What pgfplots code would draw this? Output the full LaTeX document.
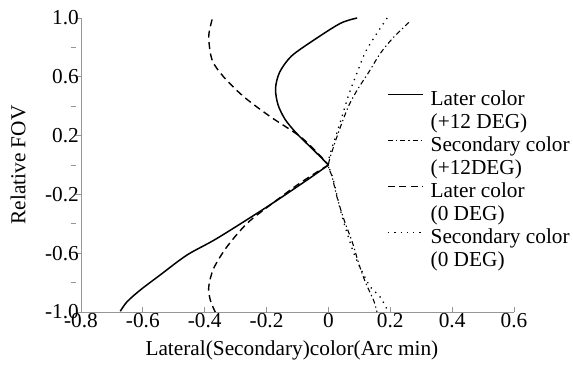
\documentclass[border=0pt]{standalone}
\usepackage{pgfplots}
\pgfplotsset{compat=1.18}
\usepackage{fontspec}
\setmainfont{Liberation Serif}
\definecolor{axgray}{RGB}{150,150,150}
\newcommand{\chartfont}{\fontsize{21.3bp}{24bp}\selectfont}
\begin{document}
\chartfont
\begin{tikzpicture}
\begin{axis}[
  at={(0,0)}, anchor=south west,
  scale only axis, width=433bp, height=294bp,
  xmin=-0.8, xmax=0.6, ymin=-1, ymax=1,
  axis x line=bottom, axis y line=left,
  axis line style={-, axgray, line width=0.8pt},
  every tick/.style={axgray, line width=0.8pt},
  tick align=inside,
  major tick length=5bp, minor tick length=5bp,
  y tick style={xshift=-5bp},
  minor y tick style={xshift=-5bp},
  xtick={-0.8,-0.6,-0.4,-0.2,0,0.2,0.4,0.6},
  xticklabels={-0.8,-0.6,-0.4,-0.2,0,0.2,0.4,0.6},
  ytick={-1,-0.6,-0.2,0.2,0.6,1},
  yticklabels={-1.0,-0.6,-0.2,0.2,0.6,1.0},
  minor ytick={-0.8,-0.4,0,0.4,0.8},
  tick label style={font=\chartfont, black},
  xticklabel style={inner sep=1.5bp},
  yticklabel style={inner sep=2bp},
  xlabel={Lateral(Secondary)color(Arc min)},
  ylabel={Relative FOV},
  label style={font=\chartfont},
  xlabel style={at={(axis description cs:0.487,-0.13)}, anchor=center},
  ylabel style={at={(axis description cs:-0.145,0.5)}, anchor=center},
  legend style={at={(0.7067,0.7585)}, anchor=north west, draw=none, fill=none,
    inner sep=0pt, row sep=0pt,
    nodes={inner xsep=7bp, inner ysep=1.5bp, text height=15bp, text depth=5bp,
      font=\chartfont}},
  legend cell align=left,
  legend image code/.code={\draw[#1] (0bp,0.3em) -- (35bp,0.3em);},
  clip=false,
]
\addlegendimage{black, line width=1.5pt}
\addlegendentry{Later color}
\addlegendimage{empty legend}
\addlegendentry{(+12 DEG)}
\addlegendimage{black, line width=1.1pt, dash pattern=on 5bp off 3bp on 1.3bp off 3bp}
\addlegendentry{Secondary color}
\addlegendimage{empty legend}
\addlegendentry{(+12DEG)}
\addlegendimage{black, line width=1.4pt, dash pattern=on 7bp off 4.5bp}
\addlegendentry{Later color}
\addlegendimage{empty legend}
\addlegendentry{(0 DEG)}
\addlegendimage{black, line width=1.3pt, dash pattern=on 1.3bp off 5bp}
\addlegendentry{Secondary color}
\addlegendimage{empty legend}
\addlegendentry{(0 DEG)}

% Later color (+12 DEG)
\addplot[black, line width=1.5pt, smooth, forget plot] coordinates {
(0.093,1.0) (0.039,0.964) (-0.047,0.85) (-0.12,0.74) (-0.158,0.63) (-0.171,0.52)
(-0.163,0.41) (-0.14,0.31) (-0.105,0.22) (-0.062,0.13) (-0.028,0.06) (0,0)};
\addplot[black, line width=1.5pt, smooth, forget plot] coordinates {
(0,0) (-0.069,-0.102) (-0.198,-0.284) (-0.36,-0.499) (-0.457,-0.612)
(-0.544,-0.748) (-0.608,-0.85) (-0.651,-0.93) (-0.673,-0.995)};

% Later color (0 DEG)
\addplot[black, line width=1.4pt, dash pattern=on 7bp off 4.5bp, smooth, forget plot] coordinates {
(-0.376,0.99) (-0.387,0.873) (-0.376,0.714) (-0.339,0.60) (-0.274,0.465)
(-0.188,0.329) (-0.091,0.193) (-0.03,0.07) (0,0)};
\addplot[black, line width=1.4pt, dash pattern=on 7bp off 4.5bp, smooth, forget plot] coordinates {
(0,0) (-0.09,-0.12) (-0.188,-0.272) (-0.263,-0.397) (-0.328,-0.556)
(-0.371,-0.703) (-0.387,-0.828) (-0.382,-0.918) (-0.366,-1.0)};

% Secondary color (+12 DEG)
\addplot[black, line width=1.1pt, dash pattern=on 5bp off 3bp on 1.3bp off 3bp, smooth, forget plot] coordinates {
(0.26,0.97) (0.207,0.86) (0.168,0.76) (0.13,0.63) (0.093,0.51) (0.065,0.40)
(0.039,0.26) (0.016,0.12) (0,0)
(0.012,-0.08) (0.028,-0.22) (0.05,-0.37) (0.078,-0.53) (0.098,-0.67)
(0.12,-0.80) (0.146,-0.92) (0.157,-1.0)};

% Secondary color (0 DEG)
\addplot[black, line width=1.3pt, dash pattern=on 1.3bp off 5bp, smooth, forget plot] coordinates {
(0.19,1.0) (0.158,0.90) (0.12,0.77) (0.093,0.63) (0.066,0.48) (0.044,0.33)
(0.023,0.19) (0.006,0.08) (0,0)
(0.016,-0.10) (0.039,-0.31) (0.06,-0.46) (0.082,-0.60) (0.11,-0.73)
(0.136,-0.83) (0.168,-0.90) (0.194,-1.0)};
\end{axis}
\pgfresetboundingbox
\path (-81bp,-55bp) rectangle (492bp,312bp);
\end{tikzpicture}
\end{document}
